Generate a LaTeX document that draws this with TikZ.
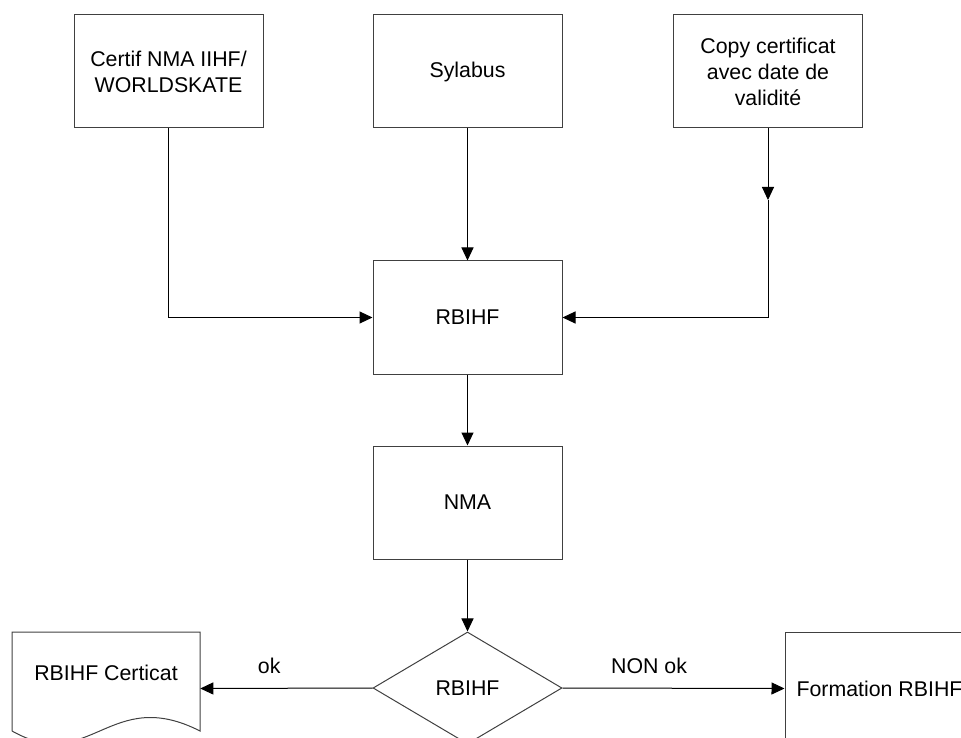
\documentclass[tikz,border=0pt]{standalone}
\usepackage{fontspec}
\setmainfont{Liberation Sans}
\usetikzlibrary{shapes.geometric, arrows.meta, positioning}

\tikzset{
  box/.style={draw=black!75, line width=0.75pt, minimum width=141.75pt, minimum height=84.75pt,
    align=center, inner sep=0pt, font=\fontsize{16}{19.5}\selectfont},
  decision/.style={diamond, draw=black!75, line width=0.75pt, minimum width=141.75pt,
    minimum height=84pt, aspect=1.7, inner sep=0pt, font=\fontsize{16}{19.5}\selectfont},
  docbox/.style={minimum width=141pt, minimum height=84.75pt, inner sep=0pt},
  txt/.style={font=\fontsize{16}{19.5}\selectfont, inner sep=0pt},
  flow/.style={line width=0.75pt, -{Triangle[length=9.75pt, width=9pt]}},
}

\begin{document}
\begin{tikzpicture}[x=0.75pt, y=-0.75pt]
\useasboundingbox (0,0) rectangle (961,738);
\clip (0,0) rectangle (961,738);
\def\midx{467.5}
%inputs
\node[box] (certif) at (168.5,71.5) {Certif NMA IIHF/\\WORLDSKATE};
\node[box] (sylabus) at (\midx,71.5) {Sylabus};
\node[box] (copy) at (768,71.5) {Copy certificat\\avec date de\\validit\'e};
\coordinate (copymid) at (768,200);
%middle column
\node[box] (rbihf) at (\midx,317.5) {RBIHF};
\node[box] (nma) at (\midx,502.5) {NMA};
\node[decision] (check) at (\midx,688) {RBIHF};
%outputs
\node[docbox] (cert) at (106,688.5) {};
\draw[draw=black!75, line width=0.75pt] (12,731) -- (12,632) -- (200,632) -- (200,731)
  .. controls (110,685) and (90,775) .. (12,731);
\node[txt] (certtext) at (106,673) {RBIHF Certicat};
\node[box] (formation) at (879.5,688.5) {Formation RBIHF};
%arrows
\draw[flow] (sylabus) -- (rbihf);
\draw[flow] (certif.south) |- (rbihf.west);
\draw[flow] (copy.south) -- (copymid);
\draw[flow] (copymid) |- (rbihf.east);
\draw[flow] (rbihf) -- (nma);
\draw[flow] (nma) -- (check);
\draw[flow] (check.west) -- node[txt, pos=0.6, above=10.5pt] (ok) {ok} (cert.east);
\draw[flow] (check.east) -- node[txt, pos=0.39, above=10.5pt] (nonok) {NON ok} (formation.west);
\end{tikzpicture}
\end{document}
